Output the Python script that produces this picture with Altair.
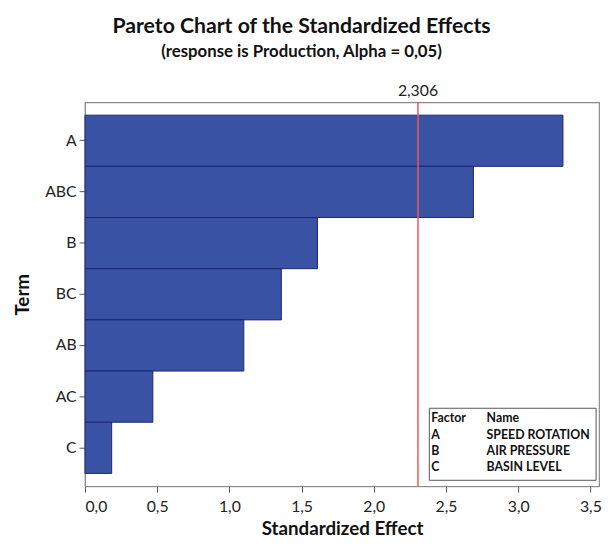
import altair as alt
import pandas as pd

terms = ["A", "ABC", "B", "BC", "AB", "AC", "C"]
effects = [3.31, 2.69, 1.61, 1.36, 1.10, 0.47, 0.185]
critical = [2.306]
critical_label = ["2,306"]
x_ticks = [0.0, 0.5, 1.0, 1.5, 2.0, 2.5, 3.0, 3.5]
legend_factor = ["Factor", "A", "B", "C"]
legend_name = ["Name", "SPEED ROTATION", "AIR PRESSURE", "BASIN LEVEL"]

FONT = "Lato"

df = pd.DataFrame({"term": terms, "effect": effects})
crit = pd.DataFrame({"x": critical, "label": critical_label})
leg = pd.DataFrame({"factor": legend_factor, "name": legend_name, "row": list(range(4))})

xscale = alt.Scale(domain=[0, 3.56], nice=False, zero=True)

bars = alt.Chart(df).mark_bar(color="#3A52A3", stroke="#1C2672", strokeWidth=1).encode(
    x=alt.X("effect:Q", scale=xscale,
            axis=alt.Axis(values=x_ticks, labelExpr="replace(format(datum.value, '.1f'), '.', ',')",
                          title="Standardized Effect", grid=False, labelPadding=7, titlePadding=5)),
    y=alt.Y("term:N", sort=terms, scale=alt.Scale(paddingInner=0, paddingOuter=0.25),
            axis=alt.Axis(title="Term", titlePadding=12, labelPadding=3)),
)

rule = alt.Chart(crit).mark_rule(color="#EE5555", strokeWidth=1.5).encode(
    x=alt.X("x:Q", scale=xscale)
)
rule_label = alt.Chart(crit).mark_text(font=FONT, fontSize=16, color="#222222", baseline="middle").encode(
    x=alt.X("x:Q", scale=xscale), y=alt.value(-11), text="label:N"
)

legend_box = alt.Chart(crit).mark_rect(fill="white", stroke="#555555", strokeWidth=1).encode(
    x=alt.value(349), x2=alt.value(518), y=alt.value(310), y2=alt.value(383)
)
leg_y = alt.Y("row:Q", scale=alt.Scale(domain=[0, 3], range=[320, 370], nice=False, zero=False), axis=None)
leg_factor = alt.Chart(leg).mark_text(font=FONT, fontSize=12.5, fontWeight="bold", align="left",
                                      baseline="middle", color="#111111").encode(
    x=alt.value(351), y=leg_y, text="factor:N"
)
leg_name = alt.Chart(leg).mark_text(font=FONT, fontSize=12.5, fontWeight="bold", align="left",
                                    baseline="middle", color="#111111").encode(
    x=alt.value(407), y=leg_y, text="name:N"
)

chart = alt.layer(bars, rule, rule_label, legend_box, leg_factor, leg_name).resolve_scale(
    y="independent"
).properties(
    width=521, height=389,
    autosize=alt.AutoSizeParams(type="none"),
    padding={"left": 78, "top": 92, "right": 4, "bottom": 60},
    title=alt.Title(
        "Pareto Chart of the Standardized Effects",
        subtitle="(response is Production, Alpha = 0,05)",
        anchor="middle", dx=-41, offset=24,
        font=FONT, fontSize=21.5, fontWeight="bold", color="#111111",
        subtitleFont=FONT, subtitleFontSize=17, subtitleFontWeight="bold", subtitleColor="#111111",
        subtitlePadding=7,
    ),
).configure_view(
    stroke="#8A8A8A", strokeWidth=1.2
).configure_axis(
    labelFont=FONT, labelFontSize=16, labelColor="#222222",
    titleFont=FONT, titleFontSize=19, titleFontWeight="bold", titleColor="#111111",
    domainColor="#8A8A8A", tickColor="#555555", tickSize=6,
)

chart.save("out.html", embed_options={"renderer": "svg", "actions": False})
